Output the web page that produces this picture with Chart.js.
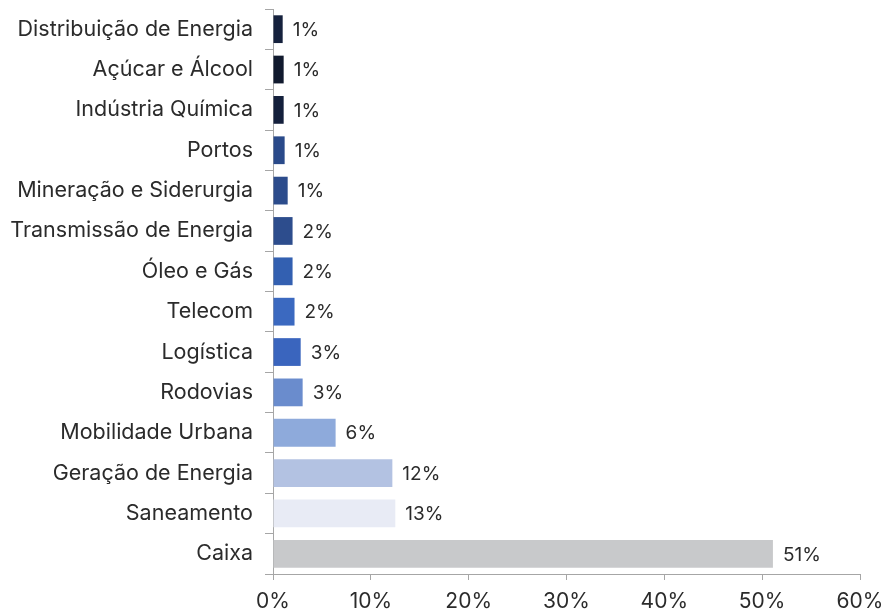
<!DOCTYPE html>
<html>
<head>
<meta charset="utf-8">
<script src="https://cdn.jsdelivr.net/npm/chart.js@4"></script>
<style>
html,body{margin:0;padding:0;background:#fff;}
#wrap{width:883px;height:613px;position:relative;}
</style>
</head>
<body>
<div id="wrap"><canvas id="c" width="883" height="613"></canvas></div>
<script>
const categories = ["Distribuição de Energia","Açúcar e Álcool","Indústria Química","Portos","Mineração e Siderurgia","Transmissão de Energia","Óleo e Gás","Telecom","Logística","Rodovias","Mobilidade Urbana","Geração de Energia","Saneamento","Caixa"];
const values = [0.99,1.09,1.09,1.19,1.5,2.0,2.0,2.2,2.83,3.03,6.4,12.2,12.5,51.1];
const valueLabels = ["1%","1%","1%","1%","1%","2%","2%","2%","3%","3%","6%","12%","13%","51%"];
const barColors = ["#15213d","#111a2e","#14203c","#2a4a8a","#2c4c8c","#2d4d8d","#3360b1","#3b69c0","#3a65be","#6a8ccd","#8eaadb","#b3c2e2","#e8ebf5","#c8c9cb"];
const xTicks = ["0%","10%","20%","30%","40%","50%","60%"];

const FONT = "Inter";
const labelPlugin = {
  id: 'barLabels',
  afterDatasetsDraw(chart) {
    const ctx = chart.ctx;
    const meta = chart.getDatasetMeta(0);
    ctx.save();
    ctx.font = "19px " + FONT;
    ctx.fillStyle = "#2b2b2b";
    ctx.textAlign = "left";
    ctx.textBaseline = "middle";
    meta.data.forEach((bar, i) => {
      ctx.fillText(valueLabels[i], bar.x + 10, bar.y + 1);
    });
    ctx.restore();
  }
};

new Chart(document.getElementById('c'), {
  type: 'bar',
  data: {
    labels: categories,
    datasets: [{
      data: values,
      backgroundColor: barColors,
      borderWidth: 0,
      barPercentage: 0.86,
      categoryPercentage: 0.8
    }]
  },
  options: {
    indexAxis: 'y',
    responsive: false,
    animation: false,
    devicePixelRatio: 1,
    layout: { padding: { top: 9, right: 23, bottom: 0, left: 0 } },
    plugins: { legend: { display: false }, tooltip: { enabled: false } },
    scales: {
      x: {
        min: 0, max: 60,
        ticks: {
          stepSize: 10,
          color: "#2b2b2b",
          font: { family: FONT, size: 21 },
          padding: 9,
          maxRotation: 0,
          callback: (v, i) => xTicks[i]
        },
        grid: { drawOnChartArea: false, drawTicks: true, tickLength: 6, color: "#a6a6a6" },
        border: { color: "#a6a6a6", width: 1 },
        afterFit(scale) { scale.height = 39; scale.paddingLeft = 0; scale.paddingRight = 0; }
      },
      y: {
        ticks: {
          color: "#2b2b2b",
          font: { family: FONT, size: 21.5 },
          padding: 12
        },
        grid: { offset: true, drawOnChartArea: false, drawTicks: true, tickLength: 8, color: "#a6a6a6" },
        border: { color: "#a6a6a6", width: 1 },
        afterFit(scale) { scale.width = 273; scale.paddingTop = 0; scale.paddingBottom = 0; }
      }
    }
  },
  plugins: [labelPlugin]
});
</script>
</body>
</html>
